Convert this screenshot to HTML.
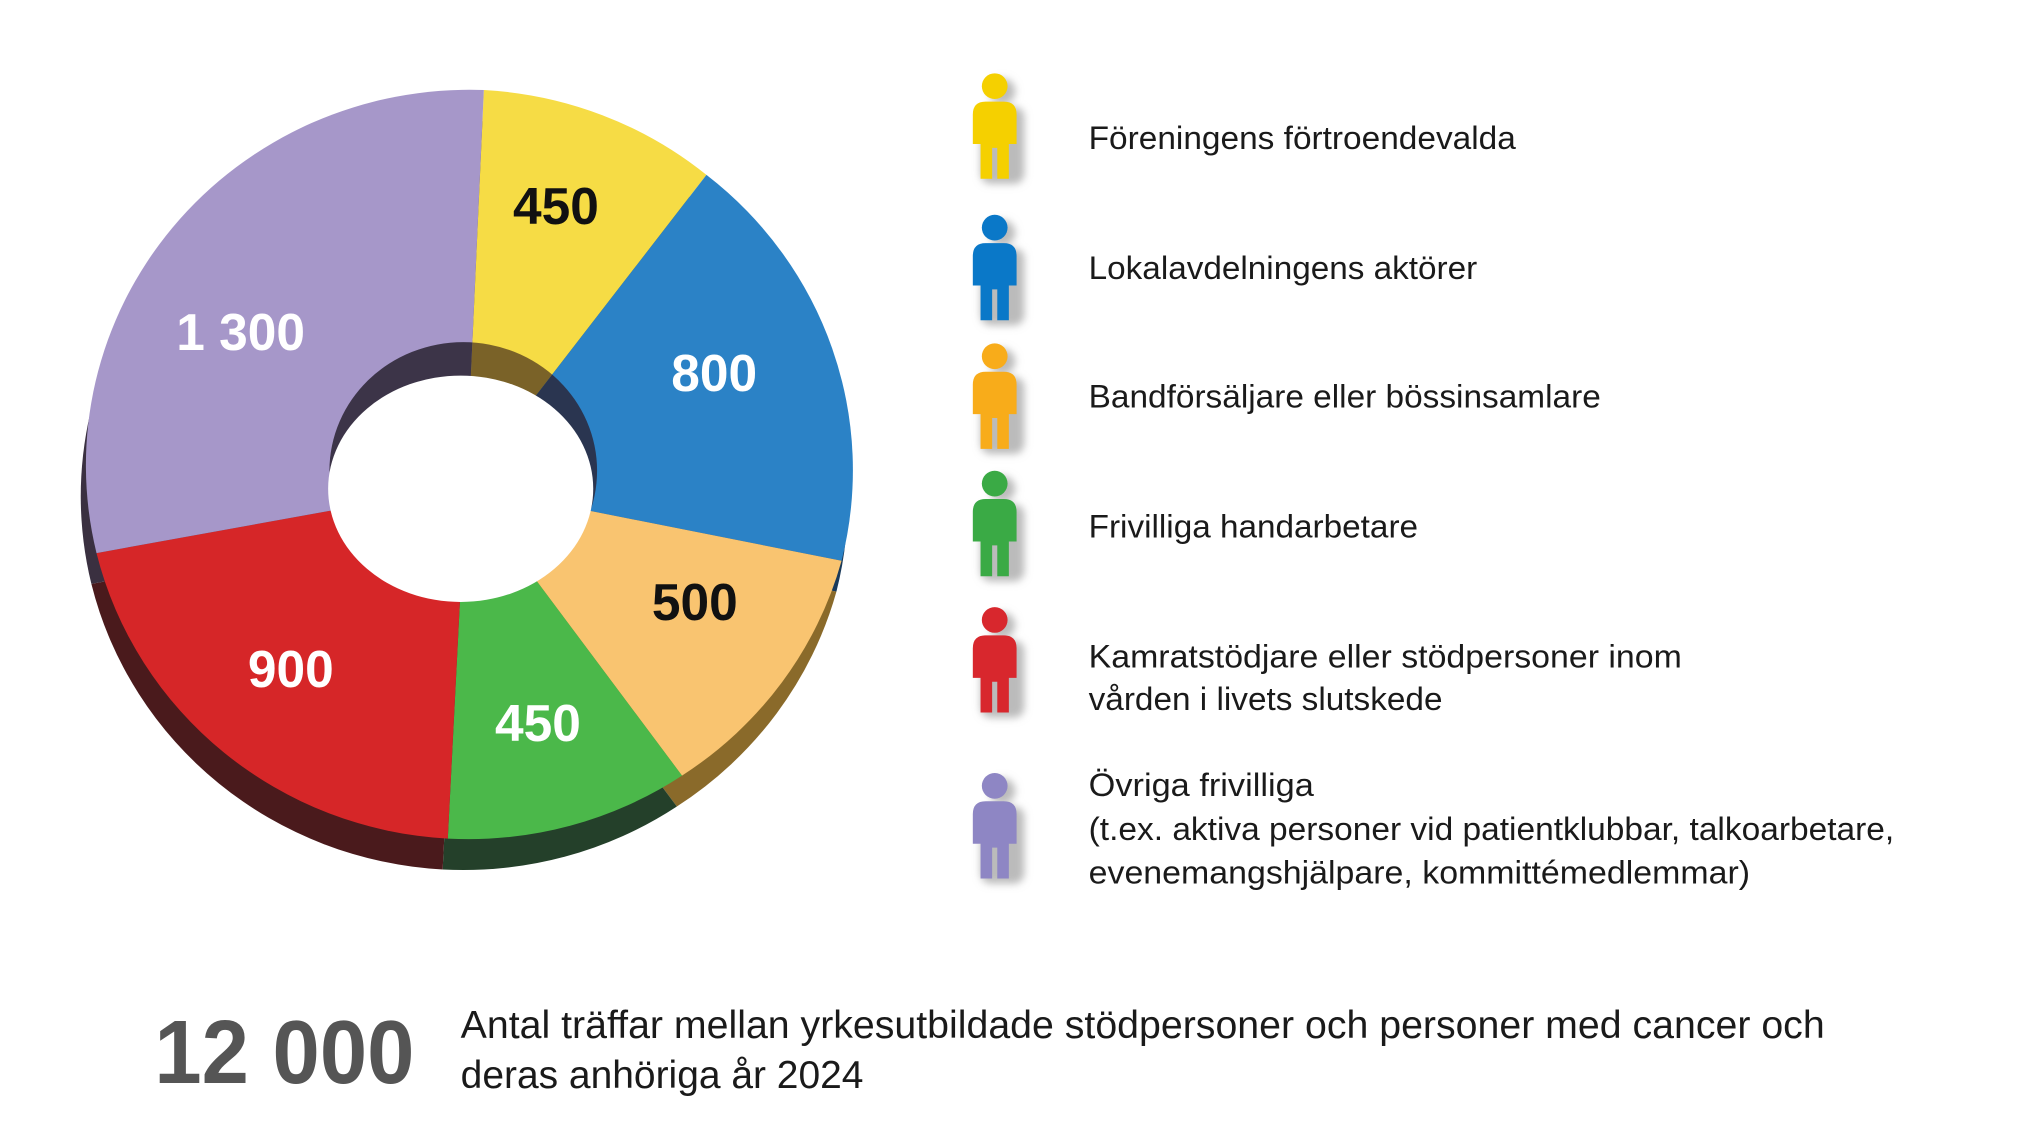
<!DOCTYPE html>
<html><head><meta charset="utf-8"><style>
html,body{margin:0;padding:0;background:#fff;width:2019px;height:1128px;overflow:hidden}
svg{display:block}
text{font-family:"Liberation Sans",sans-serif}
</style></head><body>
<svg width="2019" height="1128" viewBox="0 0 1569 877" preserveAspectRatio="none" xmlns="http://www.w3.org/2000/svg">
<defs>
<filter id="sh" x="-50%" y="-20%" width="250%" height="150%"><feGaussianBlur stdDeviation="3"/></filter>
<clipPath id="wall"><ellipse cx="360" cy="366" rx="104" ry="100"/></clipPath>
</defs>
<g transform="translate(-4,24)">
<path d="M362 378 L376 70 A298 292 0 0 1 549 136 Z" fill="#6a5a20"/>
<path d="M362 378 L549 136 A298 292 0 0 1 654 436 Z" fill="#1a3a5a"/>
<path d="M362 378 L654 436 A298 292 0 0 1 530 603 Z" fill="#8a6a2a"/>
<path d="M362 378 L530 603 A298 292 0 0 1 348 652 Z" fill="#24402a"/>
<path d="M362 378 L348 652 A298 292 0 0 1 75 430 Z" fill="#4a1a1c"/>
<path d="M362 378 L75 430 A298 292 0 0 1 376 70 Z" fill="#3a3040"/>
</g>
<path d="M362 378 L376 70 A298 292 0 0 1 549 136 Z" fill="#f6dc45"/>
<path d="M362 378 L549 136 A298 292 0 0 1 654 436 Z" fill="#2b82c6"/>
<path d="M362 378 L654 436 A298 292 0 0 1 530 603 Z" fill="#f9c470"/>
<path d="M362 378 L530 603 A298 292 0 0 1 348 652 Z" fill="#4bb84a"/>
<path d="M362 378 L348 652 A298 292 0 0 1 75 430 Z" fill="#d62628"/>
<path d="M362 378 L75 430 A298 292 0 0 1 376 70 Z" fill="#a697c9"/>
<g clip-path="url(#wall)">
<path d="M362 378 L376 70 A298 292 0 0 1 549 136 Z" fill="#7a6228"/>
<path d="M362 378 L549 136 A298 292 0 0 1 654 436 Z" fill="#2a3550"/>
<path d="M362 378 L75 430 A298 292 0 0 1 376 70 Z" fill="#3c3448"/>
</g>
<ellipse cx="358" cy="380" rx="103" ry="88" fill="#fff"/>
<g font-weight="bold" font-size="40" text-anchor="middle">
<text x="432" y="174" fill="#111">450</text>
<text x="555" y="304" fill="#fff">800</text>
<text x="540" y="482" fill="#111">500</text>
<text x="418" y="576" fill="#fff">450</text>
<text x="226" y="534" fill="#fff">900</text>
<text x="187" y="272" fill="#fff">1 300</text>
</g>
<g>
<g transform="translate(773,67)"><g filter="url(#sh)" fill="#bbb" transform="translate(6,4)"><circle r="10"/><rect x="-17" y="12" width="34" height="60" rx="8"/></g><circle r="10" fill="#f5d000"/><path d="M-17 22 Q-17 12 -7 12 H7 Q17 12 17 22 V45 H11 V72 H2 V48 H-2 V72 H-11 V45 H-17Z" fill="#f5d000"/></g>
<g transform="translate(773,177)"><g filter="url(#sh)" fill="#bbb" transform="translate(6,4)"><circle r="10"/><rect x="-17" y="12" width="34" height="60" rx="8"/></g><circle r="10" fill="#0a78c8"/><path d="M-17 22 Q-17 12 -7 12 H7 Q17 12 17 22 V45 H11 V72 H2 V48 H-2 V72 H-11 V45 H-17Z" fill="#0a78c8"/></g>
<g transform="translate(773,277)"><g filter="url(#sh)" fill="#bbb" transform="translate(6,4)"><circle r="10"/><rect x="-17" y="12" width="34" height="60" rx="8"/></g><circle r="10" fill="#f8ac1a"/><path d="M-17 22 Q-17 12 -7 12 H7 Q17 12 17 22 V45 H11 V72 H2 V48 H-2 V72 H-11 V45 H-17Z" fill="#f8ac1a"/></g>
<g transform="translate(773,376)"><g filter="url(#sh)" fill="#bbb" transform="translate(6,4)"><circle r="10"/><rect x="-17" y="12" width="34" height="60" rx="8"/></g><circle r="10" fill="#3aaa45"/><path d="M-17 22 Q-17 12 -7 12 H7 Q17 12 17 22 V45 H11 V72 H2 V48 H-2 V72 H-11 V45 H-17Z" fill="#3aaa45"/></g>
<g transform="translate(773,482)"><g filter="url(#sh)" fill="#bbb" transform="translate(6,4)"><circle r="10"/><rect x="-17" y="12" width="34" height="60" rx="8"/></g><circle r="10" fill="#d8272d"/><path d="M-17 22 Q-17 12 -7 12 H7 Q17 12 17 22 V45 H11 V72 H2 V48 H-2 V72 H-11 V45 H-17Z" fill="#d8272d"/></g>
<g transform="translate(773,611)"><g filter="url(#sh)" fill="#bbb" transform="translate(6,4)"><circle r="10"/><rect x="-17" y="12" width="34" height="60" rx="8"/></g><circle r="10" fill="#8e86c4"/><path d="M-17 22 Q-17 12 -7 12 H7 Q17 12 17 22 V45 H11 V72 H2 V48 H-2 V72 H-11 V45 H-17Z" fill="#8e86c4"/></g>
</g>
<g font-size="25" fill="#1a1a1a" lengthAdjust="spacingAndGlyphs">
<text x="846" y="116" textLength="332" lengthAdjust="spacingAndGlyphs">Föreningens förtroendevalda</text>
<text x="846" y="217" textLength="302" lengthAdjust="spacingAndGlyphs">Lokalavdelningens aktörer</text>
<text x="846" y="317" textLength="398" lengthAdjust="spacingAndGlyphs">Bandförsäljare eller bössinsamlare</text>
<text x="846" y="418" textLength="256" lengthAdjust="spacingAndGlyphs">Frivilliga handarbetare</text>
<text x="846" y="519" textLength="461" lengthAdjust="spacingAndGlyphs">Kamratstödjare eller stödpersoner inom</text>
<text x="846" y="552" textLength="275" lengthAdjust="spacingAndGlyphs">vården i livets slutskede</text>
<text x="846" y="619" textLength="175" lengthAdjust="spacingAndGlyphs">Övriga frivilliga</text>
<text x="846" y="653" textLength="626" lengthAdjust="spacingAndGlyphs">(t.ex. aktiva personer vid patientklubbar, talkoarbetare,</text>
<text x="846" y="687" textLength="514" lengthAdjust="spacingAndGlyphs">evenemangshjälpare, kommittémedlemmar)</text>
</g>
<text x="120" y="842" font-size="70" font-weight="bold" fill="#555" textLength="202" lengthAdjust="spacingAndGlyphs">12 000</text>
<g font-size="30" fill="#1a1a1a">
<text x="358" y="807" textLength="1060" lengthAdjust="spacingAndGlyphs">Antal träffar mellan yrkesutbildade stödpersoner och personer med cancer och</text>
<text x="358" y="846" textLength="313" lengthAdjust="spacingAndGlyphs">deras anhöriga år 2024</text>
</g>
</svg>
</body></html>
